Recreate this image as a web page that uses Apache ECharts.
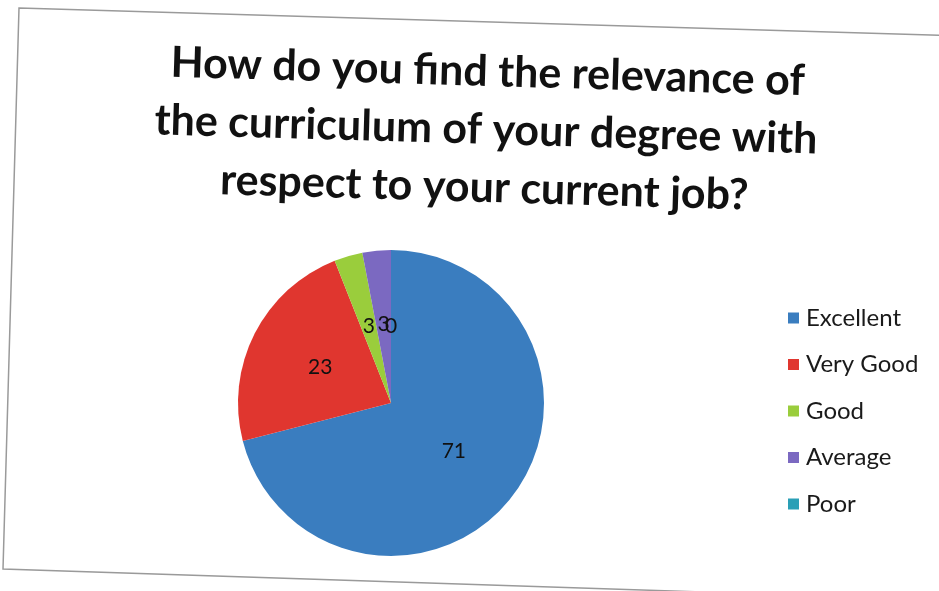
<!DOCTYPE html>
<html>
<head>
<meta charset="utf-8">
<script src="https://cdn.jsdelivr.net/npm/echarts@6/dist/echarts.min.js"></script>
<style>
html,body{margin:0;padding:0;background:#fff;}
#chart{width:939px;height:591px;}
</style>
</head>
<body>
<div id="chart"></div>
<script>
const titleLines = ['How do you find the relevance of', 'the curriculum of your degree with', 'respect to your current job?'];
const categories = ['Excellent', 'Very Good', 'Good', 'Average', 'Poor'];
const values = [71, 23, 3, 3, 0];
const colors = ['#3a7dbf', '#e0362f', '#9acd3c', '#7b69c1', '#2a9fb6'];

const chart = echarts.init(document.getElementById('chart'));
const FONT = 'Lato, "Open Sans", sans-serif';
const rot = -0.029;
const LABEL_FONT = '21px ' + FONT;

const titleEls = titleLines.map((t, i) => ({
  type: 'text',
  x: 0,
  y: (i - 1) * 58,
  style: {
    text: t,
    fill: '#111',
    font: 'bold 43px ' + FONT,
    textAlign: 'center',
    textVerticalAlign: 'middle'
  }
}));

chart.setOption({
  backgroundColor: '#fff',
  color: colors,
  animation: false,
  graphic: [
    {
      type: 'polygon',
      id: 'frame',
      z: -10,
      shape: { points: [[19, 8], [962, 36], [946, 600], [3, 569]] },
      style: { fill: '#fff', stroke: '#9a9a9a', lineWidth: 1.5 }
    },
    {
      type: 'group',
      id: 'title',
      x: 486,
      y: 130,
      rotation: rot,
      children: titleEls
    }
  ],
  legend: {
    orient: 'vertical',
    left: 783,
    top: 301,
    itemWidth: 11,
    itemHeight: 11,
    itemGap: 22.5,
    icon: 'rect',
    data: categories,
    textStyle: { fontFamily: FONT, fontSize: 24, color: '#1a1a1a', padding: [0, 0, 0, 2] }
  },
  series: [{
    type: 'pie',
    center: [391, 403],
    radius: 153,
    startAngle: 90,
    clockwise: true,
    avoidLabelOverlap: false,
    label: {
      show: true,
      position: 'inside',
      formatter: '{c}',
      fontFamily: FONT,
      fontSize: 21,
      color: '#111'
    },
    labelLine: { show: false },
    itemStyle: { borderWidth: 0 },
    emphasis: { disabled: true },
    data: categories.map((c, i) => ({ name: c, value: values[i] }))
  }]
});

// ECharts hides labels of zero-value sectors; add them at the library's own sector layout.
try {
  const data = chart.getModel().getSeriesByIndex(0).getData();
  const extra = [];
  values.forEach((v, i) => {
    if (v !== 0) return;
    const lay = data.getItemLayout(i);
    if (!lay) return;
    const mid = (lay.startAngle + lay.endAngle) / 2;
    const rr = ((lay.r0 || 0) + lay.r) / 2;
    extra.push({
      type: 'text',
      id: 'zero-label-' + i,
      x: lay.cx + rr * Math.cos(mid),
      y: lay.cy + rr * Math.sin(mid),
      z: 10,
      style: {
        text: String(v),
        fill: '#111',
        font: LABEL_FONT,
        textAlign: 'center',
        textVerticalAlign: 'middle'
      }
    });
  });
  if (extra.length) chart.setOption({ graphic: extra });
} catch (e) {}
</script>
</body>
</html>
